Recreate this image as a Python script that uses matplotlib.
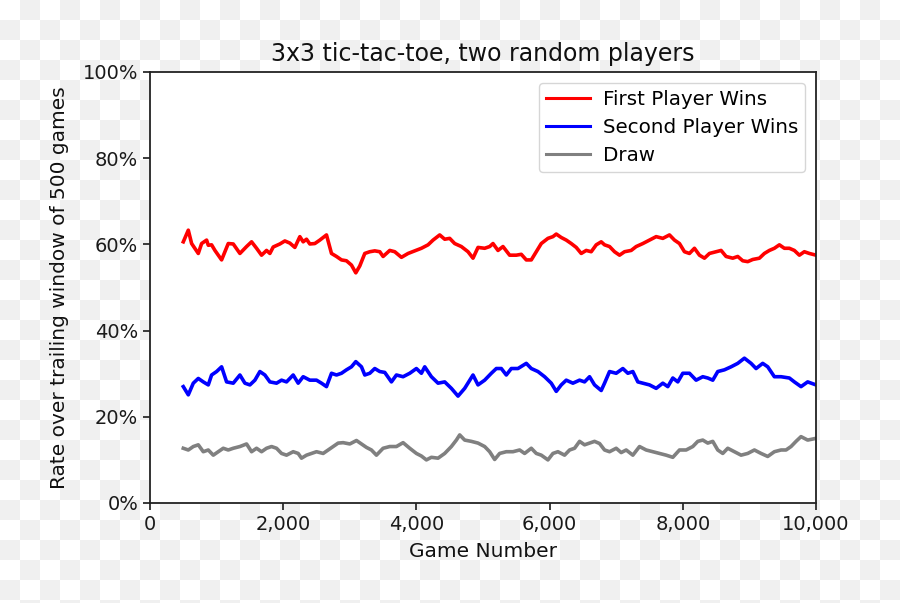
import numpy as np
import matplotlib
matplotlib.use("Agg")
import matplotlib.pyplot as plt
from matplotlib.ticker import FuncFormatter, MultipleLocator

# ==========================================
# Data (rate in %, trailing 500-game window)
# ==========================================
first_games = [500, 575, 625, 725, 775, 850, 875, 925, 975, 1075, 1175, 1250, 1350, 1450, 1525,
               1600, 1675, 1750, 1800, 1850, 1950, 2025, 2100, 2175, 2250, 2300, 2350, 2400, 2475,
               2550, 2650, 2725, 2800, 2875, 2950, 3025, 3090, 3150, 3225, 3300, 3375, 3450, 3500,
               3600, 3675, 3775, 3875, 3975, 4075, 4175, 4250, 4350, 4425, 4500, 4575, 4675, 4775,
               4850, 4925, 5025, 5100, 5150, 5225, 5300, 5400, 5500, 5575, 5650, 5725, 5800, 5875,
               5975, 6050, 6100, 6175, 6250, 6325, 6400, 6475, 6550, 6625, 6700, 6775, 6825, 6900,
               6975, 7050, 7125, 7225, 7300, 7400, 7500, 7600, 7700, 7800, 7875, 7950, 8025, 8100,
               8175, 8250, 8325, 8400, 8500, 8575, 8650, 8750, 8825, 8900, 8975, 9050, 9150, 9225,
               9300, 9375, 9450, 9525, 9600, 9675, 9750, 9825, 9900, 10000]
first_rate = [60.6, 63.3, 60.2, 57.9, 60.2, 61.0, 59.8, 59.9, 58.6, 56.4, 60.2, 60.1, 57.9, 59.5, 60.6,
              59.1, 57.5, 58.6, 57.9, 59.4, 60.1, 60.8, 60.3, 59.3, 61.8, 60.6, 61.2, 60.1, 60.2,
              61.0, 62.2, 57.9, 57.2, 56.4, 56.2, 55.2, 53.4, 55.0, 57.9, 58.3, 58.5, 58.3, 57.2,
              58.6, 58.3, 57.0, 57.9, 58.5, 59.1, 59.9, 61.0, 62.2, 61.2, 61.4, 60.2, 59.5, 58.3,
              56.8, 59.3, 59.1, 59.5, 60.2, 58.6, 59.5, 57.5, 57.5, 57.7, 56.4, 56.4, 58.3, 60.2,
              61.4, 61.8, 62.4, 61.6, 61.0, 60.2, 59.3, 57.9, 58.6, 58.3, 59.9, 60.6, 59.9, 59.5,
              58.3, 57.5, 58.3, 58.6, 59.5, 60.2, 61.0, 61.8, 61.4, 62.2, 61.0, 60.2, 58.3, 57.9,
              59.1, 57.5, 56.8, 57.9, 58.3, 58.6, 57.2, 56.8, 57.2, 56.2, 56.0, 56.5, 56.8, 57.9,
              58.6, 59.1, 59.9, 59.1, 59.1, 58.6, 57.5, 58.3, 57.9, 57.5]

second_games = [500, 575, 650, 725, 800, 875, 925, 1000, 1075, 1150, 1250, 1350, 1425, 1500, 1575,
                1650, 1725, 1800, 1900, 1975, 2050, 2150, 2225, 2300, 2400, 2500, 2575, 2650, 2725,
                2800, 2875, 2950, 3025, 3090, 3175, 3225, 3300, 3375, 3450, 3525, 3625, 3700, 3800,
                3900, 4000, 4075, 4125, 4225, 4325, 4425, 4525, 4625, 4725, 4850, 4925, 5025, 5125,
                5200, 5275, 5350, 5425, 5525, 5650, 5725, 5825, 5925, 6025, 6100, 6175, 6250, 6350,
                6450, 6525, 6600, 6675, 6775, 6825, 6900, 7000, 7100, 7175, 7250, 7325, 7400, 7500,
                7600, 7700, 7775, 7850, 7925, 8000, 8100, 8200, 8300, 8375, 8450, 8525, 8625, 8725,
                8825, 8925, 9025, 9100, 9200, 9275, 9375, 9475, 9600, 9675, 9775, 9875, 10000]
second_rate = [27.0, 25.1, 27.8, 28.9, 28.1, 27.4, 29.7, 30.5, 31.6, 28.1, 27.8, 29.7, 27.8, 27.4, 28.5,
               30.5, 29.7, 28.1, 27.8, 28.5, 28.1, 29.7, 27.8, 29.3, 28.5, 28.5, 27.8, 27.0, 30.1,
               29.7, 30.1, 30.9, 31.6, 32.8, 31.6, 29.7, 30.1, 31.2, 30.5, 30.3, 28.1, 29.7, 29.3,
               30.1, 31.2, 30.1, 31.6, 29.3, 27.8, 28.1, 26.6, 24.8, 26.6, 29.7, 27.4, 28.5, 30.1,
               31.2, 31.2, 29.7, 31.2, 31.2, 32.4, 31.2, 30.5, 29.3, 27.8, 25.9, 27.4, 28.5, 27.8,
               28.5, 28.1, 29.3, 27.4, 26.1, 27.8, 30.5, 30.1, 31.2, 30.1, 30.5, 28.1, 27.8, 27.4,
               26.6, 27.8, 27.0, 29.0, 28.1, 30.1, 30.1, 28.5, 29.3, 29.0, 28.5, 30.5, 30.9, 31.6,
               32.4, 33.6, 32.4, 31.2, 32.4, 31.6, 29.3, 29.3, 29.0, 28.1, 27.0, 28.1, 27.4]

draw_games = [500, 575, 650, 725, 800, 875, 950, 1025, 1100, 1175, 1250, 1350, 1450, 1525, 1600,
              1675, 1750, 1825, 1900, 1975, 2050, 2150, 2225, 2275, 2350, 2425, 2500, 2600, 2675,
              2750, 2825, 2900, 3000, 3100, 3175, 3250, 3325, 3400, 3500, 3600, 3700, 3800, 3900,
              4000, 4075, 4150, 4225, 4325, 4425, 4525, 4600, 4650, 4725, 4825, 4925, 5025, 5100,
              5175, 5250, 5350, 5450, 5550, 5625, 5725, 5800, 5875, 5975, 6050, 6125, 6225, 6300,
              6375, 6450, 6525, 6600, 6675, 6750, 6825, 6900, 7000, 7075, 7150, 7250, 7350, 7450,
              7550, 7650, 7750, 7850, 7950, 8050, 8150, 8225, 8300, 8375, 8450, 8525, 8600, 8675,
              8775, 8875, 8975, 9075, 9175, 9275, 9375, 9475, 9550, 9625, 9700, 9775, 9875, 10000]
draw_rate = [12.7, 12.3, 13.1, 13.5, 11.9, 12.3, 11.1, 11.9, 12.7, 12.3, 12.7, 13.1, 13.7, 11.9, 12.7,
             11.9, 12.7, 13.1, 12.7, 11.5, 11.1, 11.9, 11.5, 10.4, 11.1, 11.5, 11.9, 11.5, 12.3,
             13.1, 13.9, 14.0, 13.7, 14.5, 13.7, 12.9, 12.3, 11.1, 12.7, 13.1, 13.1, 14.0, 12.7,
             11.5, 10.9, 10.0, 10.6, 10.4, 11.5, 13.1, 14.6, 15.8, 14.6, 14.3, 13.9, 13.1, 11.9,
             10.1, 11.5, 11.9, 11.9, 12.3, 11.5, 12.7, 11.5, 11.1, 10.0, 11.5, 11.9, 11.1, 12.3,
             12.7, 14.3, 13.5, 13.9, 14.3, 13.8, 12.3, 11.9, 12.7, 11.7, 12.3, 11.1, 13.1, 12.3,
             11.9, 11.5, 11.1, 10.6, 12.3, 12.3, 13.1, 14.3, 14.6, 13.9, 14.3, 12.3, 11.5, 12.7,
             11.9, 11.1, 11.5, 12.3, 11.5, 10.8, 11.9, 12.3, 12.3, 13.1, 14.3, 15.4, 14.6, 15.0]

series_labels = ["First Player Wins", "Second Player Wins", "Draw"]
x_ticks = [0, 2000, 4000, 6000, 8000, 10000]

W, H = 900, 603
fig = plt.figure(figsize=(W / 100, H / 100), dpi=100)
fig.patch.set_alpha(0)

# checkered "transparent" backdrop around the axes
rows, cols = np.indices((H, W))
checker = ((rows // 20 + cols // 20) % 2).astype(float)
bg = np.where(checker[..., None] > 0, 240 / 255, 1.0) * np.ones((H, W, 3))
fig.figimage(bg, xo=0, yo=0, origin="upper", zorder=-10)

ax = fig.add_axes([150 / W, 1 - 503 / H, 666 / W, 431 / H])
ax.set_facecolor("white")

ax.plot(first_games, first_rate, color="red", lw=2.6, label=series_labels[0])
ax.plot(second_games, second_rate, color="blue", lw=2.6, label=series_labels[1])
ax.plot(draw_games, draw_rate, color="gray", lw=2.6, label=series_labels[2])

ax.set_xlim(0, 10000)
ax.set_ylim(0, 100)
ax.set_xticks(x_ticks)
ax.xaxis.set_major_formatter(FuncFormatter(lambda v, p: f"{int(v):,}"))
ax.yaxis.set_major_locator(MultipleLocator(20))
ax.yaxis.set_major_formatter(FuncFormatter(lambda v, p: f"{v:.0f}%"))
ax.tick_params(labelsize=14, length=5, width=1.2, colors="#1a1a1a")
for s in ax.spines.values():
    s.set_linewidth(1.3)
    s.set_color("#222222")

ax.set_title("3x3 tic-tac-toe, two random players", fontsize=17, pad=8, color="#111111")
ax.set_xlabel("Game Number", fontsize=14.5, labelpad=6, color="#111111")
ax.set_ylabel("Rate over trailing window of 500 games", fontsize=14.5, labelpad=10, color="#111111")

leg = ax.legend(loc="upper right", fontsize=14.3, frameon=True, borderpad=0.35,
                handlelength=2.2, handletextpad=0.65, labelspacing=0.45, borderaxespad=0.55)
leg.get_frame().set_edgecolor("#cccccc")
for line in leg.get_lines():
    line.set_linewidth(2.2)

fig.savefig("out.png", dpi=100)
